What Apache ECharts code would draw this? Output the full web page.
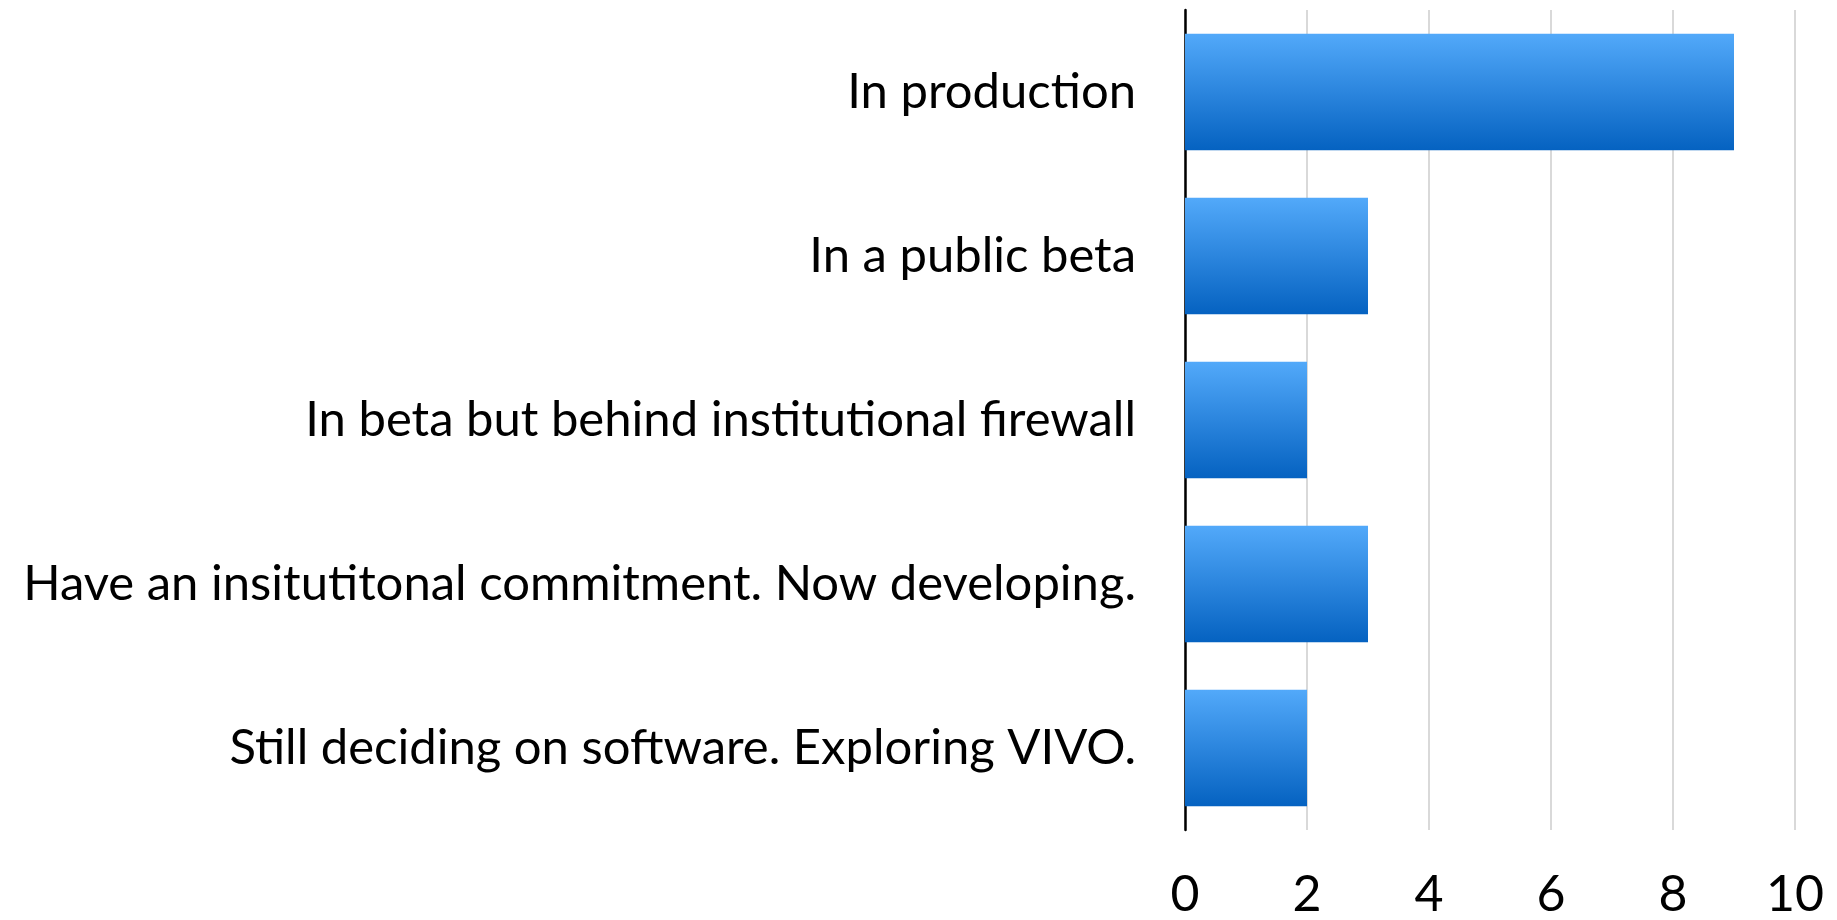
<!DOCTYPE html>
<html>
<head>
<meta charset="utf-8">
<script src="https://cdn.jsdelivr.net/npm/echarts@6/dist/echarts.min.js"></script>
<style>
  html, body { margin: 0; padding: 0; background: #fff; }
  #bar { width: 1837px; height: 920px; }
</style>
</head>
<body>
<div id="bar"></div>
<script>
var categories = [
    'In production',
    'In a public beta',
    'In beta but behind institutional firewall',
    'Have an insitutitonal commitment. Now developing.',
    'Still deciding on software. Exploring VIVO.'
];
var counts = [9, 3, 2, 3, 2];
var xTicks = [0, 2, 4, 6, 8, 10];

var dom = document.getElementById('bar');
var myChart = echarts.init(dom);

var option = {
    animation: false,
    textStyle: { fontFamily: 'Lato' },
    grid: {
        left: 1185,
        right: 42,
        top: 10,
        bottom: 78,
        containLabel: false
    },
    xAxis: {
        type: 'value',
        min: xTicks[0],
        max: xTicks[xTicks.length - 1],
        interval: 2,
        axisLine: { show: false },
        axisTick: { show: false },
        axisLabel: {
            color: '#000',
            fontSize: 50,
            margin: 40
        },
        splitLine: {
            show: true,
            lineStyle: { color: '#D9D9D9', width: 2 }
        }
    },
    yAxis: {
        type: 'category',
        inverse: true,
        data: categories,
        axisLine: {
            show: true,
            lineStyle: { color: '#000', width: 2.5 }
        },
        axisTick: { show: false },
        axisLabel: {
            color: '#000',
            fontSize: 49,
            margin: 49
        }
    },
    series: [
        {
            type: 'bar',
            data: counts,
            barCategoryGap: '29%',
            itemStyle: {
                color: new echarts.graphic.LinearGradient(0, 0, 0, 1, [
                    { offset: 0, color: '#52A9FA' },
                    { offset: 1, color: '#0562C1' }
                ])
            }
        }
    ]
};

myChart.setOption(option, true);
window.onresize = function () {
    myChart.resize();
};
</script>
</body>
</html>
